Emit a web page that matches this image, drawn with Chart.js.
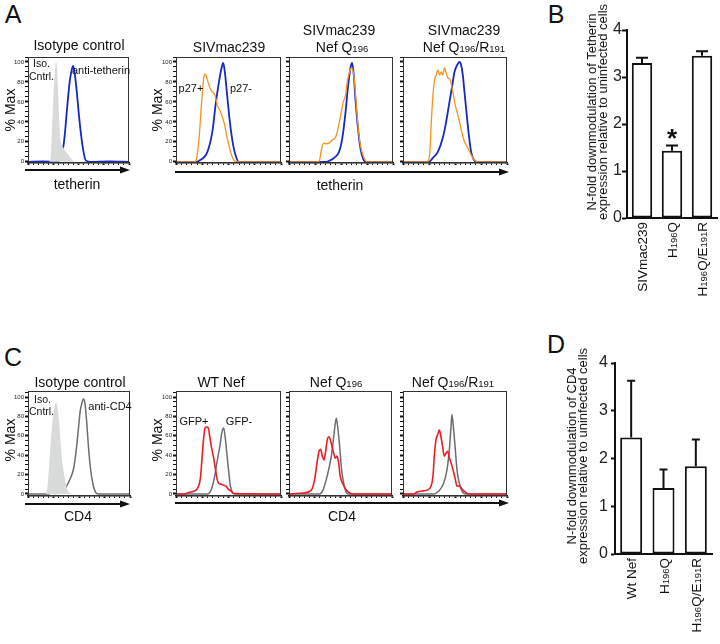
<!DOCTYPE html>
<html>
<head>
<meta charset="utf-8">
<script src="https://cdn.jsdelivr.net/npm/chart.js@4.4.1/dist/chart.umd.min.js"></script>
<style>
body { margin: 0; background: #fff; }
#fig { position: relative; width: 720px; height: 644px; overflow: hidden; font-family: "Liberation Sans", Arial, sans-serif; color: #111; }
#fig canvas { position: absolute; }
#fig svg { position: absolute; left: 0; top: 0; }
.lbl { position: absolute; white-space: nowrap; line-height: 1; }
.s { font-size: 0.68em; }
</style>
</head>
<body>
<div id="fig">
  <svg width="720" height="644">
    <g stroke="#111" stroke-width="2">
      <line x1="25" y1="170" x2="121" y2="170"/>
      <line x1="175" y1="172" x2="500" y2="172"/>
      <line x1="25" y1="504" x2="121" y2="504"/>
      <line x1="175" y1="503" x2="500" y2="503"/>
    </g>
    <g fill="#111">
      <polygon points="130,170 120,166.5 120,173.5"/>
      <polygon points="509,172 499,168.5 499,175.5"/>
      <polygon points="130,504 120,500.5 120,507.5"/>
      <polygon points="509,503 499,499.5 499,506.5"/>
    </g>
  </svg>
</div>
<script>
// flow histograms: [x in % of axis, y in % Max]
const a1Iso = [[20.8,0],[22.4,3],[24,40],[25.6,74],[27.2,98],[27.8,100],[28.6,96],[29.7,74],[31,40],[31.9,24],[35.1,14],[39.9,7],[44.7,1],[48,0]];
const a1Anti = [[0,0],[15,0.5],[27,0],[31,1.5],[33.5,7],[36.1,24],[39,57],[41.5,82],[43.5,93],[44.7,96],[46.3,88],[47.9,74],[51.1,40],[54.3,14],[57.5,1],[62,0],[80,0.5],[100,0]];

const a2Pos = [[0,0],[17,0],[18.9,1],[22,24],[24.2,57],[26.7,86],[27.7,88],[29.9,82],[32.4,74],[34.6,70],[37.1,67],[39.3,57],[42.5,50],[45.6,40],[48.7,24],[51.9,10],[55,2],[58.2,0],[100,0]];
const a2Neg = [[0,0],[20,0],[22,1],[29.9,10],[34.6,30],[37.7,57],[40.9,80],[43.4,94],[45,99],[46.5,90],[48.7,67],[51.3,40],[54.4,17],[57.5,4],[59.7,0],[100,0]];

const a3Pos = [[0,0],[27,0],[29.2,1],[30.8,10],[33.3,19],[35.5,18],[38.7,19],[41.8,22],[45,25],[47.5,35],[50.3,50],[52.2,60],[54.4,67],[56,80],[58.2,90],[60.1,94],[62.3,87],[63.8,70],[66,40],[68.6,17],[71.7,5],[74.8,0],[100,0]];
const a3Neg = [[0,0],[36,0],[38.7,1],[43.4,4],[48.1,10],[51.3,24],[54.4,50],[56.6,74],[59.1,94],[60.7,99],[62.3,87],[63.8,64],[66,37],[68.6,14],[71.7,2],[74.2,0],[100,0]];

const a4Pos = [[0,0],[23,0],[25.6,7],[27.2,40],[28.8,67],[30.4,82],[31.9,87],[33.5,92],[35.1,87],[36.7,90],[38.3,87],[39.9,94],[41.5,89],[43.1,84],[45.4,82],[47.9,70],[50.2,57],[52.7,47],[54.3,40],[56.5,30],[59.1,20],[62.3,14],[65.5,7],[68.7,2],[71.9,0],[100,0]];
const a4Neg = [[0,0],[25,0],[28.8,4],[33.5,10],[38.3,24],[41.5,40],[44.7,60],[47,74],[49.5,90],[52.1,97],[54.3,100],[55.9,97],[57.5,87],[59.1,70],[61.3,47],[63.3,27],[65.5,10],[68.1,2],[70.3,0],[100,0]];

const c1Iso = [[17.6,0],[19.2,9],[21.4,40],[24,75],[26.2,92],[27.8,94],[29.4,85],[31,68],[32.9,40],[35.1,23],[37.4,9],[39.9,2],[43.1,0]];
const c1Anti = [[0,0],[20.8,0],[22,2],[23.3,3],[24.6,2],[26,0.5],[33.5,1],[38.3,9],[41.5,16],[44.7,26],[46.3,37],[47.9,51],[49.5,68],[51.1,85],[52.7,93],[54.3,98],[55.9,93],[57.5,75],[59.1,51],[61.3,26],[63.9,9],[66.5,1.5],[68.7,0],[100,0]];

const c2Pos = [[0,0],[7.9,0],[12.7,1.7],[17.5,3],[20.6,6],[23.2,16],[24.8,37],[26.3,57],[27.6,68],[29.2,69],[30.8,68],[32.4,57],[34,47],[35.9,37],[37.5,26],[39,16],[40.6,11],[42.9,10],[45.4,9],[47.6,8],[49.8,5],[52.4,3],[54.9,0.5],[100,0]];
const c2Neg = [[0,0],[30.2,0],[32.7,2.4],[34.9,9],[37.1,20],[39.7,37],[41.9,50],[43.8,64],[45.4,68],[47,57],[48.6,40],[50.2,23],[51.7,9],[53.3,2.4],[55.6,0],[100,0]];

const c3Pos = [[0,0],[13.6,1],[21.7,4],[24.9,15],[27.2,32],[29.1,44],[30.7,46],[32.4,39],[34,35],[35.6,44],[37.2,56],[38.8,59],[41.1,52],[43.4,42],[45,37],[46.6,39],[48.2,32],[49.8,18],[52.4,10],[55.7,4],[58.9,1],[62.1,0],[100,0]];
const c3Neg = [[0,0],[29.8,0],[33,4],[36.2,15],[38.5,25],[41.1,39],[43.4,59],[45,73],[46,78],[47.6,66],[49.2,49],[50.8,28],[52.4,15],[54.7,4],[57.3,0],[100,0]];

const c4Pos = [[0,0],[10.3,0],[13.5,2],[18.3,3],[23.1,4],[26.9,8],[28.8,18],[30.1,39],[31.7,56],[33.3,61],[34.9,66],[36.5,59],[38.1,49],[39.7,39],[41.3,42],[42.9,44],[44.6,37],[46.2,32],[48.1,25],[50.3,15],[51.9,8],[54.2,8.5],[56.7,5],[59.9,2],[63.1,0],[100,0]];
const c4Neg = [[0,0],[29.5,0],[34.3,3],[39.1,11],[42.3,25],[44.6,46],[46.2,70],[47.1,82],[48.7,66],[50.3,46],[51.9,25],[54.2,11],[56.7,3],[59.9,0],[100,0]];

// bar panels
const catsB = ['SIVmac239', 'H{196}Q', 'H{196}Q/E{191}R'];
const valsB = [3.30, 1.43, 3.45];
const errB = [0.11, 0.11, 0.10];
const starsB = ['', '*', ''];

const catsD = ['Wt Nef', 'H{196}Q', 'H{196}Q/E{191}R'];
const valsD = [2.44, 1.38, 1.84];
const errD = [1.19, 0.39, 0.56];
const starsD = ['', '', ''];

const FAM = '"Liberation Sans", Arial, sans-serif';
const BLUE = '#1529c6', ORANGE = '#f7941d', RED = '#ee1d23', GRAYLINE = '#6d6e71', GREYFILL = '#d9dada';

Chart.defaults.font.family = FAM;
const fig = document.getElementById('fig');

function makeCanvas(l, t, w, h) {
    const c = document.createElement('canvas');
    c.width = w; c.height = h;
    c.style.left = l + 'px'; c.style.top = t + 'px';
    c.style.width = w + 'px'; c.style.height = h + 'px';
    fig.appendChild(c);
    return c;
}

function txt(html, cx, cy, size, rot, extra) {
    const d = document.createElement('div');
    d.className = 'lbl';
    d.innerHTML = html;
    d.style.left = cx + 'px';
    d.style.top = cy + 'px';
    d.style.fontSize = size + 'px';
    d.style.transform = 'translate(-50%,-50%)' + (rot ? ' rotate(' + rot + 'deg)' : '');
    if (extra) Object.assign(d.style, extra);
    fig.appendChild(d);
}

// thin frame round the plot area
const framePlugin = {
    id: 'frame',
    afterDraw(chart) {
        const a = chart.chartArea, ctx = chart.ctx;
        ctx.save();
        ctx.strokeStyle = '#333';
        ctx.lineWidth = 1;
        ctx.strokeRect(a.left + 0.5, a.top + 0.5, a.right - a.left - 1, a.bottom - a.top - 1);
        ctx.restore();
    }
};

function histogram(box, yr, showLabels, sets) {
    const [l, t, r, b] = box;
    const padL = showLabels ? 22 : 6, padR = 3, padT = 6, padB = 5;
    const cv = makeCanvas(l - padL, t - padT, r - l + padL + padR, b - t + padT + padB);
    new Chart(cv, {
        type: 'line',
        data: {
            datasets: sets.map(s => ({
                data: s.data,
                borderColor: s.fill ? 'rgba(0,0,0,0)' : s.color,
                borderWidth: s.fill ? 0 : s.width,
                backgroundColor: s.fill || 'rgba(0,0,0,0)',
                fill: s.fill ? 'origin' : false,
                pointRadius: 0,
                cubicInterpolationMode: 'monotone'
            }))
        },
        options: {
            responsive: false, animation: false, devicePixelRatio: 1, events: [],
            layout: { padding: { top: padT, right: padR, left: 0, bottom: 0 } },
            plugins: { legend: { display: false }, tooltip: { enabled: false } },
            scales: {
                x: {
                    type: 'linear', min: 0, max: 100,
                    ticks: { display: false, stepSize: 5 },
                    grid: { drawOnChartArea: false, tickLength: 2, tickColor: '#111',
                        tickWidth: c => (c.tick && c.tick.value % 25 === 0) ? 2 : 1 },
                    border: { color: '#111', width: 1.5 },
                    afterFit: s => { s.height = padB; }
                },
                y: {
                    min: yr[0], max: yr[1],
                    ticks: { stepSize: 5, includeBounds: false, autoSkip: false, padding: 1,
                        font: { size: 6 }, color: '#222',
                        callback: v => (showLabels && v % 20 === 0) ? String(v) : '' },
                    grid: { drawOnChartArea: false, tickLength: 3, tickColor: '#111',
                        tickWidth: c => (c.tick && c.tick.value % 20 === 0) ? 2 : 1 },
                    border: { color: '#111', width: 1 },
                    afterFit: s => { s.width = padL; }
                }
            }
        },
        plugins: [framePlugin]
    });
}

function splitSub(label) {
    return label.split(/(\{[^}]*\})/).filter(p => p).map(p =>
        p[0] === '{' ? { t: p.slice(1, -1), sub: true } : { t: p, sub: false });
}

function barPanel(box, cats, vals, errs, stars, tick, capW) {
    const [l, t, r, b] = box;
    const padL = 32, padR = Math.max(2, 720 - r), padT = 14, padB = 92;
    const cv = makeCanvas(l - padL, t - padT, r - l + padL + padR, b - t + padT + padB);
    const extras = {
        id: 'extras',
        afterDatasetsDraw(chart) {
            const ctx = chart.ctx, ys = chart.scales.y;
            const meta = chart.getDatasetMeta(0);
            ctx.save();
            ctx.strokeStyle = '#111';
            ctx.fillStyle = '#111';
            ctx.lineWidth = 2;
            meta.data.forEach((bar, i) => {
                const y0 = ys.getPixelForValue(vals[i]);
                const y1 = ys.getPixelForValue(vals[i] + errs[i]);
                ctx.beginPath();
                ctx.moveTo(bar.x, y0); ctx.lineTo(bar.x, y1);
                ctx.moveTo(bar.x - capW / 2, y1); ctx.lineTo(bar.x + capW / 2, y1);
                ctx.stroke();
                if (stars[i]) {
                    ctx.font = 'bold 26px ' + FAM;
                    ctx.textAlign = 'center';
                    ctx.textBaseline = 'alphabetic';
                    ctx.fillText(stars[i], bar.x, y1 + 1);
                }
            });
            ctx.restore();
        },
        afterDraw(chart) {
            const ctx = chart.ctx, xs = chart.scales.x;
            ctx.save();
            ctx.fillStyle = '#111';
            ctx.textAlign = 'left';
            ctx.textBaseline = 'alphabetic';
            cats.forEach((lab, i) => {
                const parts = splitSub(lab);
                let total = 0;
                parts.forEach(p => {
                    ctx.font = (p.sub ? '9.5px ' : '13.5px ') + FAM;
                    p.w = ctx.measureText(p.t).width;
                    total += p.w;
                });
                ctx.translate(xs.getPixelForValue(i), chart.chartArea.bottom + 4);
                ctx.rotate(-Math.PI / 2);
                let x = -total;
                parts.forEach(p => {
                    ctx.font = (p.sub ? '9.5px ' : '13.5px ') + FAM;
                    ctx.fillText(p.t, x, 5);
                    x += p.w;
                });
                ctx.setTransform(1, 0, 0, 1, 0, 0);
            });
            ctx.restore();
        }
    };
    new Chart(cv, {
        type: 'bar',
        data: {
            labels: cats,
            datasets: [{ data: vals, backgroundColor: '#fff', borderColor: '#111', borderWidth: 2,
                borderSkipped: false, barPercentage: 0.68, categoryPercentage: 1 }]
        },
        options: {
            responsive: false, animation: false, devicePixelRatio: 1, events: [],
            layout: { padding: { top: padT, right: padR, left: 0, bottom: 0 } },
            plugins: { legend: { display: false }, tooltip: { enabled: false } },
            scales: {
                x: {
                    ticks: { display: false },
                    grid: { drawOnChartArea: false, drawTicks: false },
                    border: { color: '#111', width: 2 },
                    afterFit: s => { s.height = padB; }
                },
                y: {
                    min: 0, max: 4,
                    ticks: { stepSize: 1, padding: tick.pad, font: { size: 16 }, color: '#222' },
                    grid: { drawOnChartArea: false, tickLength: tick.len, tickWidth: 2, tickColor: '#111' },
                    border: { color: '#111', width: 2 },
                    afterFit: s => { s.width = padL; }
                }
            }
        },
        plugins: [extras]
    });
}

// panel A
const yA = [-1.2, 105];
histogram([28, 57, 129, 163], yA, true, [{ data: a1Iso, fill: GREYFILL }, { data: a1Anti, color: BLUE, width: 1.8 }]);
histogram([176, 57, 281, 163], yA, true, [{ data: a2Pos, color: ORANGE, width: 1.3 }, { data: a2Neg, color: BLUE, width: 1.8 }]);
histogram([289, 57, 393, 163], yA, false, [{ data: a3Pos, color: ORANGE, width: 1.3 }, { data: a3Neg, color: BLUE, width: 1.8 }]);
histogram([403, 57, 507, 163], yA, false, [{ data: a4Pos, color: ORANGE, width: 1.3 }, { data: a4Neg, color: BLUE, width: 1.8 }]);

// panel C
const yC = [-2.1, 106.2];
histogram([28, 391, 130, 496], yC, true, [{ data: c1Iso, fill: GREYFILL }, { data: c1Anti, color: GRAYLINE, width: 1.5 }]);
histogram([176, 391, 281, 496], yC, true, [{ data: c2Pos, color: RED, width: 1.6 }, { data: c2Neg, color: GRAYLINE, width: 1.5 }]);
histogram([289, 391, 392, 496], yC, false, [{ data: c3Pos, color: RED, width: 1.6 }, { data: c3Neg, color: GRAYLINE, width: 1.5 }]);
histogram([403, 391, 507, 496], yC, false, [{ data: c4Pos, color: RED, width: 1.6 }, { data: c4Neg, color: GRAYLINE, width: 1.5 }]);

// panels B and D
barPanel([627, 30, 717, 218], catsB, valsB, errB, starsB, { len: 5, pad: 0 }, 12);
barPanel([615, 363, 712, 554], catsD, valsD, errD, starsD, { len: 4, pad: 3 }, 8);

// panel letters
txt('A', 13, 14, 25);
txt('B', 556, 14, 25);
txt('C', 13, 357, 25);
txt('D', 556, 344, 25);

// titles above histograms
txt('Isotype control', 79, 45, 14);
txt('SIVmac239', 229, 47, 14);
txt('SIVmac239', 339, 30, 14);
txt('Nef Q<span class="s">196</span>', 342, 47, 14);
txt('SIVmac239', 464, 30, 14);
txt('Nef Q<span class="s">196</span>/R<span class="s">191</span>', 464, 47, 14);

txt('Isotype control', 80, 382, 14);
txt('WT Nef', 221, 382, 14);
txt('Nef Q<span class="s">196</span>', 336, 382, 14);
txt('Nef Q<span class="s">196</span>/R<span class="s">191</span>', 453, 382, 14);

// axis labels
txt('% Max', 10, 110, 14, -90);
txt('% Max', 157, 110, 14, -90);
txt('% Max', 10, 440, 14, -90);
txt('% Max', 157, 440, 14, -90);
txt('tetherin', 77, 184, 14);
txt('tetherin', 340, 185, 14);
txt('CD4', 78, 516, 14);
txt('CD4', 342, 516, 14);

// labels inside the plots
txt('Iso.', 41.5, 63, 10.5);
txt('Cntrl.', 41.5, 76, 10.5);
txt('anti-tetherin', 101, 70, 11);
txt('p27+', 191, 88, 11);
txt('p27-', 241, 88, 11);
txt('Iso.', 42.5, 399, 10.5);
txt('Cntrl.', 41.5, 411, 10.5);
txt('anti-CD4', 110, 406, 11);
txt('GFP+', 194, 421, 11);
txt('GFP-', 239, 421, 11);

// bar panel y titles
txt('N-fold downmodulation of Tetherin<br>expression relative to uninfected cells', 597, 112, 13, -90,
    { lineHeight: '11px', textAlign: 'center' });
txt('N-fold downmodulation of CD4<br>expression relative to uninfected cells', 577, 456, 13, -90,
    { lineHeight: '11px', textAlign: 'center' });
</script>
</body>
</html>
